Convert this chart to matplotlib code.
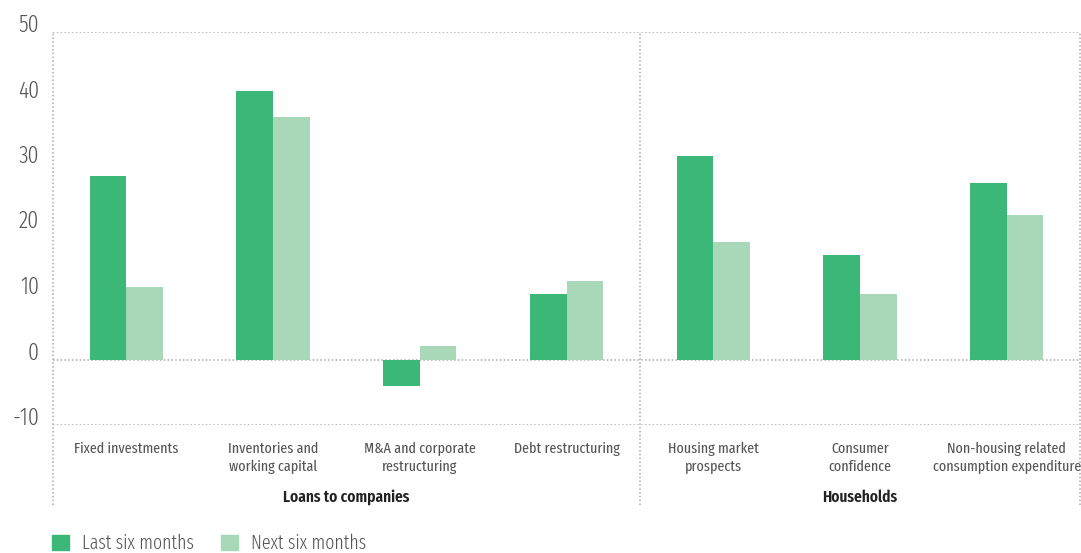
import numpy as np
import matplotlib
matplotlib.use('Agg')
import matplotlib.pyplot as plt
from matplotlib.patches import Patch

plt.rcParams['font.family'] = ['Fira Sans Extra Condensed', 'DejaVu Sans']
plt.rcParams['axes.unicode_minus'] = False

categories = ["Fixed investments", "Inventories and\nworking capital",
              "M&A and corporate\nrestructuring", "Debt restructuring",
              "Housing market\nprospects", "Consumer\nconfidence",
              "Non-housing related\nconsumption expenditure"]
last_six = [28, 41, -4, 10, 31, 16, 27]
next_six = [11, 37, 2, 12, 18, 10, 22]
groups = ["Loans to companies", "Households"]
group_centres = [1.5, 5.0]
series_names = ["Last six months", "Next six months"]

dark = '#3bb878'
light = '#a8d8b8'
grey = '#555555'
dots = '#aaaaaa'

fig = plt.figure(figsize=(10.81, 5.53), dpi=100)
ax = fig.add_axes([53/1081, 1 - 425/553, 1027/1081, 393/553])

x = np.arange(len(categories))
w = 0.25
ax.bar(x - w/2, last_six, w, color=dark, zorder=2)
ax.bar(x + w/2, next_six, w, color=light, zorder=2)

ax.set_xlim(-0.5, 6.5)
ax.set_ylim(-10, 50)

# dotted frame lines at top, zero and bottom
for yv in (50, 0, -10):
    ax.axhline(yv, color=dots, linestyle=(0, (1, 1.5)), linewidth=1.1, zorder=1)
# verticals run down past the axis to enclose the group labels
for xv in (-0.5, 3.5, 6.5):
    ax.axvline(xv, ymin=-0.204, ymax=1, color=dots, linestyle=(0, (1, 1.5)),
               linewidth=1.1, clip_on=False, zorder=1)

for s in ax.spines.values():
    s.set_visible(False)

ax.set_yticks(np.arange(-10, 51, 10))
ax.tick_params(axis='y', length=0, pad=10, labelsize=17, labelcolor=grey)
for lab in ax.get_yticklabels():
    lab.set_verticalalignment('baseline')
    lab.set_fontweight(300)

ax.set_xticks(x)
ax.set_xticklabels(categories, linespacing=1.3)
ax.tick_params(axis='x', length=0, pad=12, labelsize=11, labelcolor=grey)

for g, gx in zip(groups, group_centres):
    ax.text(gx, -0.183, g, transform=ax.get_xaxis_transform(), ha='center',
            va='center', fontsize=12, fontweight=600, color='#222222')

handles = [Patch(color=dark), Patch(color=light)]
fig.legend(handles, series_names, loc='lower left', bbox_to_anchor=(52/1081, 0.0),
           ncol=2, frameon=False, prop={'size': 14, 'weight': 300},
           handlelength=0.85, handleheight=0.85, borderpad=0, borderaxespad=0,
           handletextpad=0.7, columnspacing=1.4, labelcolor=grey)

fig.savefig('out.png', dpi=100)
